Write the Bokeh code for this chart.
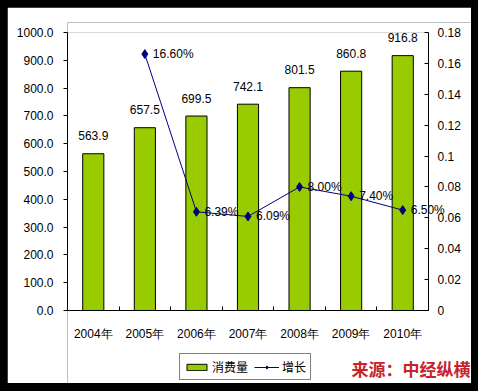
from bokeh.plotting import figure
from bokeh.models import (Range1d, LinearAxis, FixedTicker, ColumnDataSource, Legend,
                          LegendItem, Label, BoxAnnotation, NumeralTickFormatter,
                          CustomJSTickFormatter)
from bokeh.core.properties import value
from bokeh.embed import file_html
from bokeh.resources import INLINE

# ---- data ----
years = ["2004年", "2005年", "2006年", "2007年", "2008年", "2009年", "2010年"]
consumption = [563.9, 657.5, 699.5, 742.1, 801.5, 860.8, 916.8]
growth_years = ["2005年", "2006年", "2007年", "2008年", "2009年", "2010年"]
growth = [0.166, 0.0639, 0.0609, 0.080, 0.074, 0.065]
growth_labels = ["16.60%", "6.39%", "6.09%", "8.00%", "7.40%", "6.50%"]
left_ticks = [0, 100, 200, 300, 400, 500, 600, 700, 800, 900, 1000]
right_ticks = [0, 0.02, 0.04, 0.06, 0.08, 0.10, 0.12, 0.14, 0.16, 0.18]
left_max = 1000
right_max = 0.18
bar_name = "消费量"
line_name = "增长"
source_note = "来源：中经纵横"

FONT = "Liberation Sans"
CJK = "Noto Sans CJK SC"
GREEN = "#99CC00"
NAVY = "#000080"

# ---- layout (pixels) ----
W, H = 464, 376
B_LEFT, B_TOP = 60, 15
ABOVE = 10                       # room above the value area, inside the frame
PLOT_W, PLOT_H = 361, 278        # size of the value area
BELOW = H - B_TOP - ABOVE - PLOT_H   # room under the zero line, inside the frame
RIGHT = W - B_LEFT - PLOT_W      # room right of the right axis, inside the frame

n = len(years)
x_lo, x_hi = -0.5, n - 0.5
xs = list(range(n))
gx = [years.index(y) for y in growth_years]

bar_src = ColumnDataSource(dict(x=xs, y=consumption, lab=[f"{v:.1f}" for v in consumption]))
line_src = ColumnDataSource(dict(x=gx, y=growth, lab=growth_labels))

p = figure(width=W, height=H, output_backend="svg", toolbar_location=None,
           x_range=Range1d(x_lo, x_hi + n * RIGHT / PLOT_W),
           y_range=Range1d(-left_max * BELOW / PLOT_H, left_max * (1 + ABOVE / PLOT_H)),
           min_border_left=B_LEFT, min_border_right=0, min_border_top=B_TOP,
           min_border_bottom=0)
p.extra_y_ranges = {"pct": Range1d(-right_max * BELOW / PLOT_H, right_max * (1 + ABOVE / PLOT_H))}
p.xgrid.visible = False
p.ygrid.visible = False
p.background_fill_color = "white"
p.border_fill_color = "white"
p.outline_line_color = None
p.add_layout(BoxAnnotation(left=x_lo, right=x_hi, bottom=0, top=left_max,
                           fill_alpha=0, line_color="#808080", line_width=1, level="underlay"))

bars = p.vbar(x="x", top="y", width=0.41, source=bar_src, fill_color=GREEN,
              line_color="black", line_width=1)
p.text(x="x", y="y", text="lab", source=bar_src, text_align="center", text_baseline="middle",
       y_offset=-18, text_font=value(FONT), text_font_size="12px", text_color="black")

ln = p.line(x="x", y="y", source=line_src, y_range_name="pct", line_color=NAVY, line_width=1)
mk = p.scatter(x="x", y="y", source=line_src, y_range_name="pct", marker="diamond", size=9,
               fill_color=NAVY, line_color=NAVY)
p.text(x="x", y="y", text="lab", source=line_src, y_range_name="pct", text_align="left",
       text_baseline="middle", x_offset=8, text_font=value(FONT), text_font_size="12px",
       text_color="black")

# x axis, fixed on the zero line
xa = p.xaxis[0]
xa.fixed_location = 0
xa.bounds = (x_lo, x_hi)
xa.ticker = FixedTicker(ticks=xs, minor_ticks=[i - 0.5 for i in range(n + 1)])
xa.major_label_overrides = {i: years[i] for i in xs}
xa.major_tick_in = 0
xa.major_tick_out = 0
xa.minor_tick_in = 4
xa.minor_tick_out = 0
xa.major_label_standoff = 16
xa.axis_line_color = "black"
xa.minor_tick_line_color = "black"
xa.major_label_text_font = FONT
xa.major_label_text_font_size = "12px"
xa.major_label_text_color = "black"

# left axis
ya = p.yaxis[0]
ya.bounds = (0, left_max)
ya.ticker = FixedTicker(ticks=left_ticks)
ya.formatter = NumeralTickFormatter(format="0.0")
ya.major_tick_out = 4
ya.major_tick_in = 0
ya.minor_tick_line_color = None
ya.major_label_standoff = 10
ya.axis_line_color = "black"
ya.major_tick_line_color = "black"
ya.major_label_text_font = FONT
ya.major_label_text_font_size = "12px"
ya.major_label_text_color = "black"

# right axis, fixed at the right edge of the value area
ra = LinearAxis(y_range_name="pct", ticker=FixedTicker(ticks=right_ticks), bounds=(0, right_max),
                fixed_location=x_hi,
                formatter=CustomJSTickFormatter(code="return parseFloat(tick.toFixed(2)).toString();"))
ra.major_tick_in = 4
ra.major_tick_out = 0
ra.minor_tick_line_color = None
ra.major_label_standoff = 9
ra.axis_line_color = "black"
ra.major_tick_line_color = "black"
ra.major_label_text_font = FONT
ra.major_label_text_font_size = "12px"
ra.major_label_text_color = "black"
p.add_layout(ra, "right")

legend = Legend(items=[LegendItem(label=bar_name, renderers=[bars]),
                       LegendItem(label=line_name, renderers=[ln, mk])],
                orientation="horizontal", location=(112, 3),
                border_line_color="black", border_line_width=1,
                background_fill_color="white", background_fill_alpha=1,
                label_text_font=CJK, label_text_font_size="12px", label_text_color="black",
                glyph_width=25, glyph_height=8, padding=4, spacing=6, label_standoff=3,
                margin=0, label_height=12)
p.add_layout(legend, "center")

note = Label(x=W - B_LEFT - 1, y=3, x_units="screen", y_units="screen", text=source_note,
             text_align="right", text_baseline="bottom", text_font=CJK,
             text_font_size="17px", text_font_style="bold", text_color="#C8232C")
p.add_layout(note)

html = file_html(p, INLINE)
html = html.replace("</head>",
                    "<style>html,body{background:#000000 !important;}"
                    "body{padding:7px 0 0 7px !important;}</style></head>", 1)
open("out.html", "w").write(html)
